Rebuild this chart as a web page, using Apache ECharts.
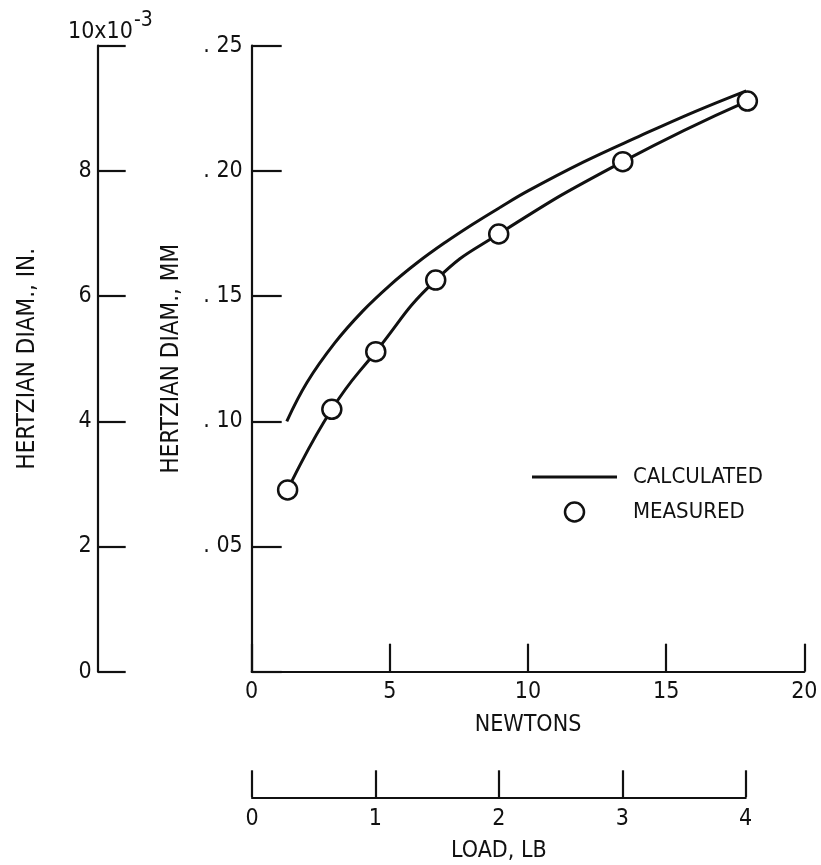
<!DOCTYPE html>
<html>
<head>
<meta charset="utf-8">
<script src="https://cdn.jsdelivr.net/npm/echarts@6/dist/echarts.min.js"></script>
<style>
html,body{margin:0;padding:0;background:#fff;}
#c{width:821px;height:865px;}
</style>
</head>
<body>
<div id="c"></div>
<script>
// ---- data ----
var calcLoadN  = [1.27, 2, 3, 4, 5, 6, 7, 8, 9, 10, 12, 14, 16, 17.9];
var calcDiamMm = [0.100, 0.1155, 0.1312, 0.1438, 0.1543, 0.1634, 0.1714, 0.1787, 0.1855, 0.1920, 0.2035, 0.2137, 0.2235, 0.2320];

var measLoadN  = [1.30, 2.90, 4.49, 6.66, 8.94, 13.43, 17.94];
var measDiamMm = [0.0726, 0.1048, 0.1278, 0.1564, 0.1748, 0.2037, 0.2279];

var newtonTicks = ['0', '5', '10', '15', '20'];
var lbTicks     = ['0', '1', '2', '3', '4'];
var mmTicks     = ['', '. 05', '. 10', '. 15', '. 20', '. 25'];
var inTicks     = ['0', '2', '4', '6', '8', ''];

// ---- chart ----
var FONT = '"DejaVu Sans Condensed", "DejaVu Sans", sans-serif';
var INK = '#111';

function pairs(xs, ys) { return xs.map(function (x, i) { return [x, ys[i]]; }); }

var chart = echarts.init(document.getElementById('c'), null, { renderer: 'canvas' });

var axisCommon = {
  axisLine: { show: true, lineStyle: { color: INK, width: 2.2 } },
  axisTick: { show: true, inside: true, lineStyle: { color: INK, width: 2.2 } },
  splitLine: { show: false },
  axisLabel: { color: INK, fontFamily: FONT, fontSize: 23 },
  nameTextStyle: { color: INK, fontFamily: FONT, fontSize: 23 }
};

function merge(a, b) { return echarts.util.merge(echarts.util.clone(a), b, true); }

var option = {
  backgroundColor: '#fff',
  animation: false,
  textStyle: { fontFamily: FONT },
  grid: [
    { left: 251.7, right: 16.7, top: 45.7, bottom: 193.3 },
    { left: 252, width: 493.7, top: 770, height: 27.3 }
  ],
  xAxis: [
    merge(axisCommon, {
      type: 'value', gridIndex: 0, min: 0, max: 20, interval: 5,
      axisTick: { length: 28 },
      axisLabel: { margin: 9, formatter: function (v) { return newtonTicks[Math.round(v / 5)]; } },
      name: 'NEWTONS', nameLocation: 'middle', nameGap: 42
    }),
    merge(axisCommon, {
      type: 'value', gridIndex: 1, min: 0, max: 4, interval: 1,
      axisTick: { length: 27 },
      axisLabel: { margin: 10, formatter: function (v) { return lbTicks[Math.round(v)]; } },
      name: 'LOAD, LB', nameLocation: 'middle', nameGap: 42
    })
  ],
  yAxis: [
    merge(axisCommon, {
      type: 'value', gridIndex: 0, min: 0, max: 0.25, interval: 0.05,
      position: 'left',
      axisTick: { length: 30 },
      axisLabel: { margin: 9, formatter: function (v) { return mmTicks[Math.round(v / 0.05)]; } },
      name: 'HERTZIAN DIAM., MM', nameLocation: 'middle', nameGap: 68,
      nameTextStyle: { fontSize: 24 }
    }),
    merge(axisCommon, {
      type: 'value', gridIndex: 0, min: 0, max: 10, interval: 2,
      position: 'left', offset: 154,
      axisTick: { length: 28 },
      axisLabel: { margin: 6, formatter: function (v) { return inTicks[Math.round(v / 2)]; } },
      name: 'HERTZIAN DIAM., IN.', nameLocation: 'middle', nameGap: 58,
      nameTextStyle: { fontSize: 24 }
    }),
    { type: 'value', gridIndex: 1, show: false, min: 0, max: 1 }
  ],
  legend: {
    orient: 'vertical',
    left: 527, top: 461,
    itemWidth: 85, itemHeight: 19, itemGap: 13,
    textStyle: { color: INK, fontFamily: FONT, fontSize: 22, lineHeight: 19, padding: [0, 0, 0, 11] },
    data: [
      { name: 'CALCULATED', icon: 'path://M0,0 L85,0 L85,3 L0,3 Z', itemStyle: { color: INK, borderWidth: 0, opacity: 1 } },
      { name: 'MEASURED', icon: 'circle', itemStyle: { color: '#fff', borderColor: INK, borderWidth: 2.5, opacity: 1 } }
    ]
  },
  series: [
    {
      name: 'CALCULATED', type: 'line', xAxisIndex: 0, yAxisIndex: 0,
      data: pairs(calcLoadN, calcDiamMm), smooth: 0.4, symbol: 'none',
      lineStyle: { color: INK, width: 3 }, itemStyle: { color: INK }
    },
    {
      name: 'measured fit', type: 'line', xAxisIndex: 0, yAxisIndex: 0,
      data: pairs(measLoadN, measDiamMm), smooth: 0.5, symbol: 'none',
      lineStyle: { color: INK, width: 3 }, itemStyle: { color: INK }
    },
    {
      name: 'MEASURED', type: 'scatter', xAxisIndex: 0, yAxisIndex: 0,
      data: pairs(measLoadN, measDiamMm), symbol: 'circle', symbolSize: 19,
      itemStyle: { color: '#fff', borderColor: INK, borderWidth: 2.5, opacity: 1 }, z: 5
    }
  ],
  graphic: [
    {
      type: 'text', left: 68, top: 10,
      style: {
        text: '{a|10x10}{b|-3}',
        rich: {
          a: { fontFamily: FONT, fontSize: 23, fill: INK, padding: [13, 0, 0, 0] },
          b: { fontFamily: FONT, fontSize: 21, fill: INK, padding: [0, 0, 10, 1] }
        }
      }
    }
  ]
};

chart.setOption(option);
</script>
</body>
</html>
